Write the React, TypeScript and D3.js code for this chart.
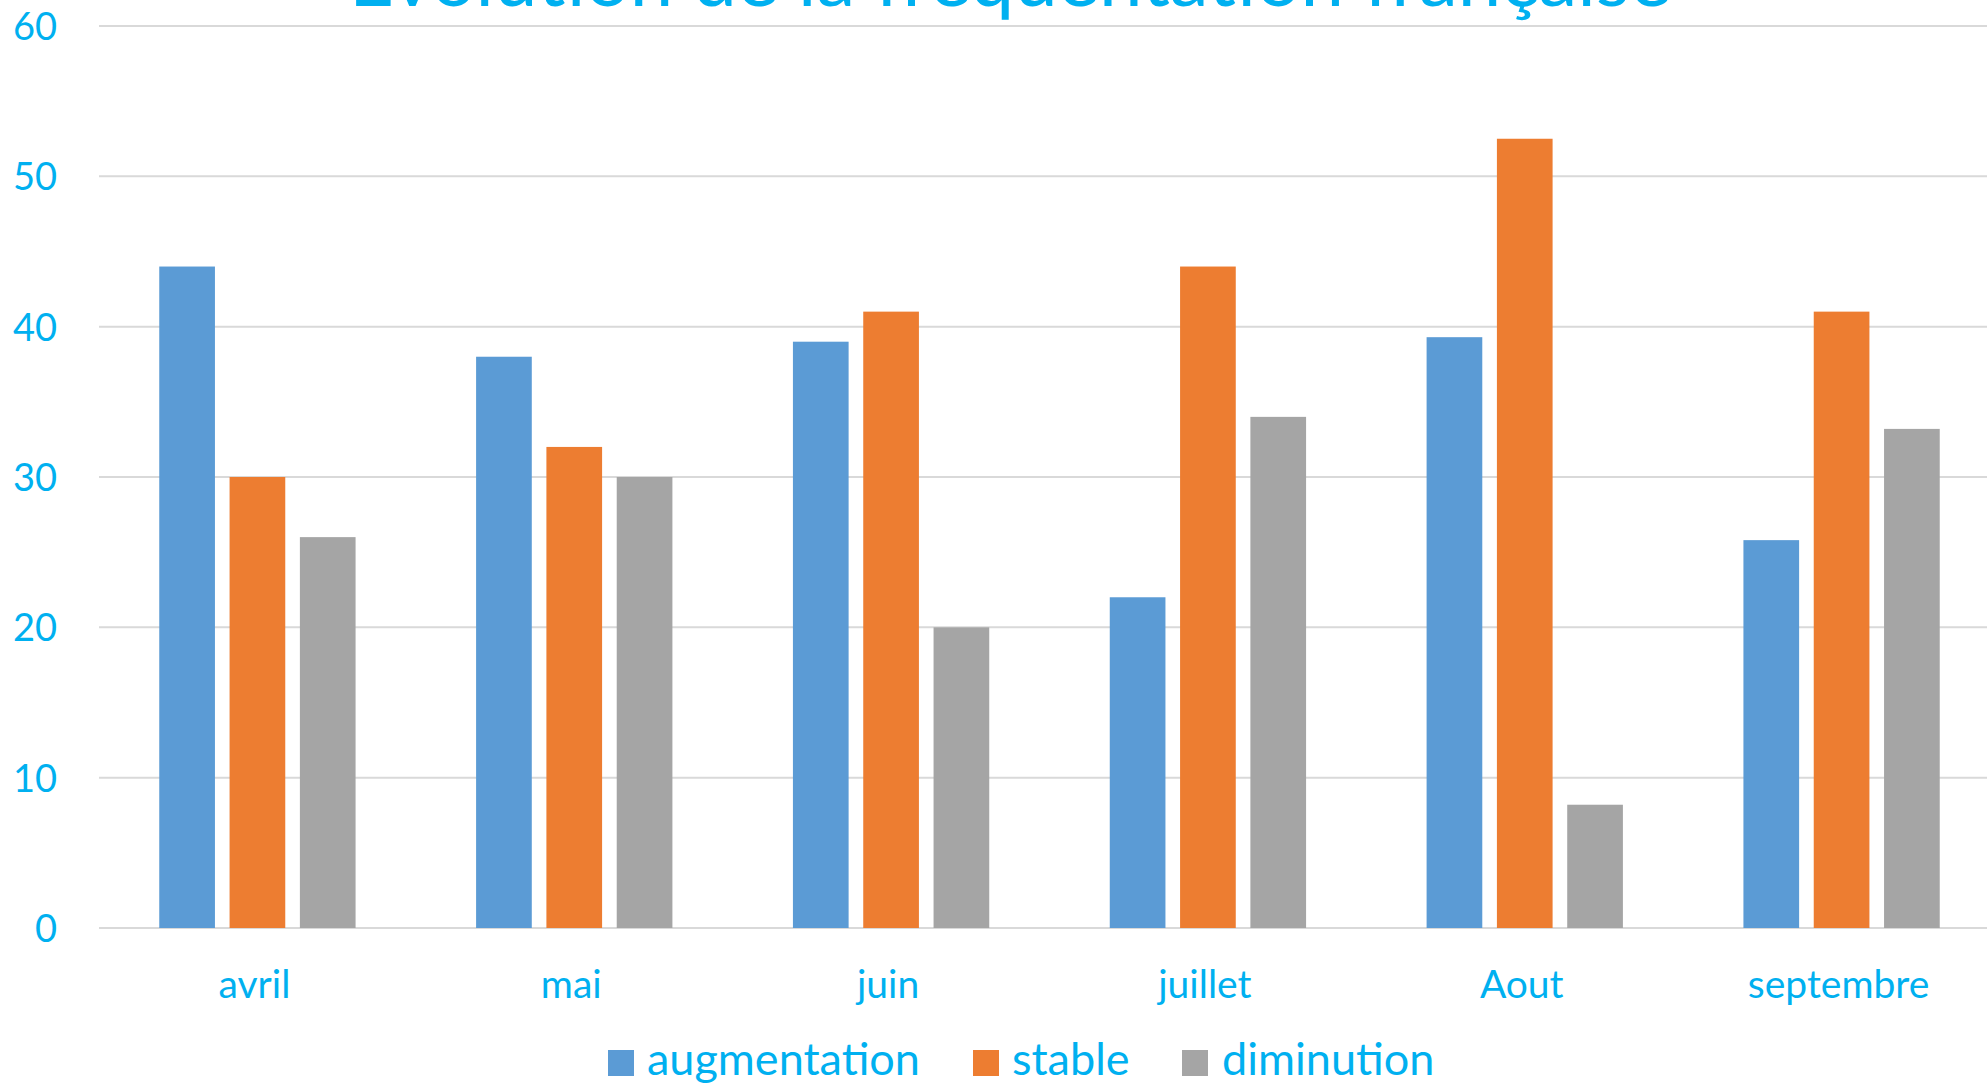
import React, { useEffect } from "react";
import * as d3 from "d3";

const months = ["avril", "mai", "juin", "juillet", "Aout", "septembre"];
const seriesNames = ["augmentation", "stable", "diminution"];
const augmentation = [44, 38, 39, 22, 39.3, 25.8];
const stable = [30, 32, 41, 44, 52.5, 41];
const diminution = [26, 30, 20, 34, 8.2, 33.2];
const yTicks = [0, 10, 20, 30, 40, 50, 60];

const colors = ["#5B9BD5", "#ED7D31", "#A5A5A5"];
const textColor = "#00B0F0";
const font = "Lato, 'Open Sans', sans-serif";

export default function App() {
  useEffect(() => {
    document.body.style.margin = "0";
  }, []);

  const width = 1987;
  const height = 1085;
  const values = [augmentation, stable, diminution];

  const x0 = d3.scaleBand().domain(months).range([99, 2000]);
  const x1 = d3
    .scaleBand()
    .domain(seriesNames)
    .range([0, x0.bandwidth()])
    .paddingInner(0.208)
    .paddingOuter(0.857);
  const y = d3.scaleLinear().domain([0, 60]).range([928, 26]);

  // legend layout (square + label per item)
  const legendItems = [
    { x: 608, textX: 647 },
    { x: 973, textX: 1012 },
    { x: 1182, textX: 1222 },
  ];

  return (
    <svg width={width} height={height} style={{ display: "block" }} fontFamily={font}>
      <rect width={width} height={height} fill="#ffffff" />

      {yTicks.map((t) => (
        <g key={t}>
          <line x1={99} x2={width} y1={y(t)} y2={y(t)} stroke="#D9D9D9" strokeWidth={2} />
          <text
            x={57}
            y={y(t) + 14}
            textAnchor="end"
            fontSize={38}
            fill={textColor}
          >
            {t}
          </text>
        </g>
      ))}

      <text x={1010} y={6} textAnchor="middle" fontSize={78} fill={textColor}>
        Evolution de la fréquentation française
      </text>

      {months.map((m, i) => (
        <g key={m} transform={`translate(${x0(m)},0)`}>
          {seriesNames.map((s, j) => (
            <rect
              key={s}
              x={x1(s)}
              y={y(values[j][i])}
              width={x1.bandwidth()}
              height={y(0) - y(values[j][i])}
              fill={colors[j]}
            />
          ))}
          <text
            x={x0.bandwidth() / 2 - 3}
            y={998}
            textAnchor="middle"
            fontSize={39}
            fill={textColor}
          >
            {m}
          </text>
        </g>
      ))}

      {seriesNames.map((s, j) => (
        <g key={s}>
          <rect x={legendItems[j].x} y={1050} width={26} height={26} fill={colors[j]} />
          <text x={legendItems[j].textX} y={1075} fontSize={45} fill={textColor}>
            {s}
          </text>
        </g>
      ))}
    </svg>
  );
}
